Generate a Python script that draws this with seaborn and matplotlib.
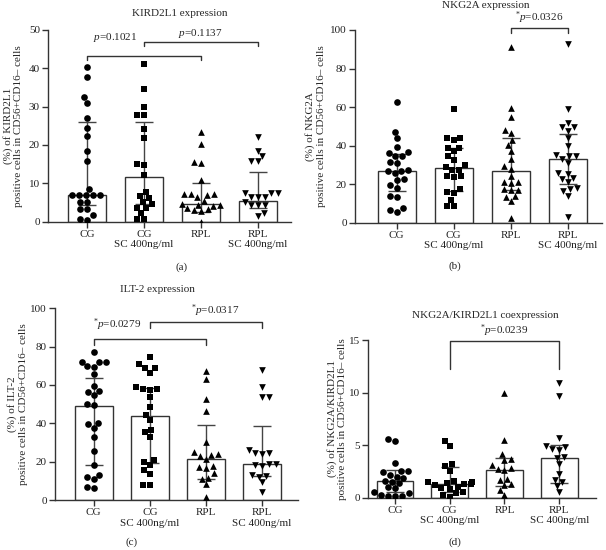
import matplotlib
matplotlib.use('Agg')
import matplotlib.pyplot as plt
import pandas as pd
import seaborn as sns

groups = ['CG', 'CG\nSC 400ng/ml', 'RPL', 'RPL\nSC 400ng/ml']
markers = ['o', 's', '^', 'v']

# (a) KIRD2L1 expression
kir_cg = [40.4, 37.8, 32.4, 30.9, 27.0, 24.5, 22.3, 18.4, 15.7, 8.4, 6.9, 6.9, 6.9, 6.9, 6.9,
          5.2, 5.2, 3.2, 3.2, 1.7, 0.6, 0.5]
kir_cg_sc = [41.1, 34.6, 30.0, 27.8, 27.8, 24.2, 21.9, 14.7, 15.0, 12.2, 7.8, 6.8, 6.2, 5.2,
             4.5, 3.6, 3.6, 2.2, 0.6, 0.6]
kir_rpl = [23.5, 20.2, 15.5, 15.2, 10.9, 7.2, 7.2, 7.0, 7.2, 6.3, 5.5, 4.6, 4.4, 4.3, 4.2,
           3.5, 3.2, 3.0, 2.8, 0.0]
kir_rpl_sc = [22.2, 18.3, 17.0, 15.7, 15.7, 7.4, 7.4, 7.4, 6.5, 6.5, 6.5, 5.2, 4.3, 4.3, 4.3,
              2.2, 1.6]
kir_median = [7.0, 11.6, 4.6, 5.5]
kir_q1 = [4.3, 4.6, 2.6, 3.6]
kir_q3 = [26.0, 26.0, 10.2, 12.9]

# (b) NKG2A expression
nkg_cg = [62.4, 47.1, 43.7, 39.1, 36.5, 36.0, 34.6, 34.4, 31.3, 31.0, 27.3, 27.0, 26.6, 25.7,
          22.8, 22.4, 19.4, 17.9, 13.9, 13.5, 7.5, 6.6, 5.7]
nkg_cg_sc = [59.1, 44.0, 43.7, 42.8, 39.0, 38.8, 37.0, 34.4, 32.7, 29.7, 28.9, 27.5, 27.2,
             24.0, 24.0, 23.8, 17.4, 15.7, 15.5, 11.8, 8.7, 8.7]
nkg_rpl = [91.0, 59.3, 54.8, 48.3, 46.6, 43.0, 40.5, 37.4, 33.0, 29.2, 28.0, 24.3, 21.0, 21.0,
           20.5, 17.5, 17.0, 16.8, 13.6, 13.4, 11.0, 2.3]
nkg_rpl_sc = [92.7, 59.1, 51.5, 49.7, 49.5, 47.8, 43.7, 39.6, 35.0, 34.8, 34.6, 33.2, 31.0,
              25.7, 25.2, 23.1, 22.8, 21.0, 17.9, 17.6, 16.2, 13.6, 3.1]
nkg_median = [27.0, 28.3, 26.6, 33.0]
nkg_q1 = [16.7, 16.7, 17.0, 20.2]
nkg_q3 = [35.7, 38.8, 43.7, 46.1]

# (c) ILT-2 expression
ilt_cg = [77.0, 72.2, 72.0, 71.8, 69.9, 69.5, 65.5, 59.7, 57.0, 56.5, 54.8, 50.1, 49.5, 40.3,
          39.8, 37.5, 32.8, 25.6, 18.0, 13.0, 12.0, 10.8, 6.8, 6.2]
ilt_cg_sc = [74.4, 70.8, 69.0, 69.0, 66.4, 59.1, 57.7, 57.7, 57.4, 53.9, 48.7, 44.3, 41.5,
             36.5, 35.3, 33.0, 20.9, 20.0, 18.0, 15.7, 13.6, 7.8, 7.8]
ilt_rpl = [67.3, 63.1, 52.7, 46.6, 30.4, 25.0, 24.0, 23.5, 23.0, 21.2, 17.5, 17.0, 16.5, 13.9,
           11.7, 11.0, 8.3, 1.7]
ilt_rpl_sc = [67.8, 59.1, 53.9, 53.5, 26.1, 24.5, 24.3, 23.8, 19.0, 18.6, 18.3, 17.8, 13.0,
              12.5, 12.2, 9.2, 4.3]
ilt_median = [49.0, 44.0, 21.2, 18.6]
ilt_q1 = [18.3, 19.5, 11.0, 12.5]
ilt_q3 = [63.5, 58.6, 39.1, 38.8]

# (d) NKG2A/KIRD2L1 coexpression
co_cg = [5.6, 5.35, 3.3, 2.5, 2.5, 2.4, 2.2, 2.0, 1.9, 1.6, 1.5, 1.4, 1.0, 0.9, 0.5, 0.4,
         0.25, 0.2, 0.2, 0.2]
co_cg_sc = [5.4, 4.9, 3.2, 3.0, 2.5, 1.6, 1.5, 1.5, 1.4, 1.3, 1.3, 1.2, 1.0, 0.9, 0.8, 0.5,
            0.4, 0.3, 0.1]
co_rpl = [10.0, 5.5, 4.2, 3.7, 3.6, 3.1, 2.8, 2.7, 2.6, 1.8, 1.7, 1.3, 1.2, 0.75, 0.28]
co_rpl_sc = [10.9, 9.7, 5.7, 4.9, 4.8, 4.6, 4.5, 3.9, 3.8, 3.2, 2.3, 1.7, 1.5, 1.1, 0.5]
co_median = [1.6, 1.35, 2.6, 3.75]
co_q1 = [0.5, 0.55, 1.08, 1.4]
co_q3 = [2.6, 2.9, 3.75, 5.0]

sns.set_style('ticks')
plt.rcParams['font.family'] = ['Liberation Serif', 'DejaVu Serif']
plt.rcParams['mathtext.fontset'] = 'custom'
plt.rcParams['mathtext.rm'] = 'Liberation Serif'
plt.rcParams['mathtext.it'] = 'Liberation Serif:italic'

LINE = '#333333'
fig = plt.figure(figsize=(6.06, 5.5), dpi=100)


def draw_panel(rect, points, med, q1, q3, ymax, ystep, ylabel, xlim, label_x):
    ax = fig.add_axes(rect)
    sns.barplot(x=groups, y=med, order=groups, color='white', edgecolor=LINE,
                linewidth=1, width=0.67, errorbar=None, ax=ax, zorder=1)
    ax.errorbar(range(4), med, yerr=[[m - a for m, a in zip(med, q1)],
                                     [b - m for m, b in zip(med, q3)]],
                fmt='none', ecolor='#444444', elinewidth=1, capsize=6.5,
                capthick=1, zorder=2)
    for i, g in enumerate(groups):
        df = pd.DataFrame({'group': g, 'value': points[i]})
        sns.swarmplot(data=df, x='group', y='value', order=groups, marker=markers[i],
                      color='black', size=4.8, linewidth=0, ax=ax, zorder=3, warn_thresh=1)
    ax.set_xlim(*xlim)
    ax.set_ylim(0, ymax)
    ax.set_yticks(range(0, ymax + 1, ystep))
    ax.set_xlabel('')
    ax.set_ylabel('')
    ax.text(label_x, 0.5, ylabel, transform=ax.transAxes, rotation=90, ha='center',
            va='center', fontsize=8, multialignment='center')
    for s in ['top', 'right']:
        ax.spines[s].set_visible(False)
    for s in ['left', 'bottom']:
        ax.spines[s].set_color(LINE)
        ax.spines[s].set_linewidth(1)
    ax.tick_params(direction='out', length=4, width=1, color=LINE, labelsize=8, pad=2,
                   labelcolor='#222222')
    return ax


def bracket(ax, x0, x1, y, drop, text, tx, ty):
    ax.plot([x0, x0, x1, x1], [y - drop, y, y, y - drop], color=LINE, lw=1, clip_on=False)
    ax.text(tx, ty, text, ha='center', va='center', fontsize=8, clip_on=False)


ax_a = draw_panel([0.0797, 0.597, 0.4006, 0.3485],
                  [kir_cg, kir_cg_sc, kir_rpl, kir_rpl_sc], kir_median, kir_q1, kir_q3,
                  50, 10, '(%) of KIRD2L1\npositive cells in CD56+CD16– cells',
                  (-0.69, 3.59), -0.145)
bracket(ax_a, 0, 2, 43.1, 1.0, r'$p$=0.1021', 0.49, 48.1)
bracket(ax_a, 1, 3, 46.8, 0.9, r'$p$=0.1137', 2.0, 49.2)

ax_b = draw_panel([0.5858, 0.5951, 0.4076, 0.3504],
                  [nkg_cg, nkg_cg_sc, nkg_rpl, nkg_rpl_sc], nkg_median, nkg_q1, nkg_q3,
                  100, 20, '(%) of NKG2A\npositive cells in CD56+CD16– cells',
                  (-0.73, 3.6), -0.16)
bracket(ax_b, 2, 3, 101.2, 2.6, r'$^{*}$$p$=0.0326', 2.5, 106.4)

ax_c = draw_panel([0.0908, 0.0909, 0.401, 0.3486],
                  [ilt_cg, ilt_cg_sc, ilt_rpl, ilt_rpl_sc], ilt_median, ilt_q1, ilt_q3,
                  100, 20, '(%) of ILT-2\npositive cells in CD56+CD16– cells',
                  (-0.69, 3.64), -0.155)
bracket(ax_c, 0, 2, 83.9, 2.9, r'$^{*}$$p$=0.0279', 0.42, 91.5)
bracket(ax_c, 1, 3, 92.8, 3.0, r'$^{*}$$p$=0.0317', 2.16, 98.6)

ax_d = draw_panel([0.6073, 0.0951, 0.3762, 0.2867],
                  [co_cg, co_cg_sc, co_rpl, co_rpl_sc], co_median, co_q1, co_q3,
                  15, 5, '(%) of NKG2A/KIRD2L1\npositive cells in CD56+CD16– cells',
                  (-0.49, 3.67), -0.135)
bracket(ax_d, 1, 3, 14.95, 2.7, r'$^{*}$$p$=0.0239', 2.0, 15.9)

# panel titles and letters
fig.text(180 / 606, 1 - 13 / 550, 'KIRD2L1 expression', ha='center', va='center', fontsize=8)
fig.text(486 / 606, 1 - 5 / 550, 'NKG2A expression', ha='center', va='center', fontsize=8)
fig.text(157 / 606, 1 - 289 / 550, 'ILT-2 expression', ha='center', va='center', fontsize=8)
fig.text(485 / 606, 1 - 315 / 550, 'NKG2A/KIRD2L1 coexpression', ha='center', va='center',
         fontsize=8)
fig.text(182 / 606, 1 - 267 / 550, '(a)', ha='center', va='center', fontsize=8)
fig.text(455 / 606, 1 - 266 / 550, '(b)', ha='center', va='center', fontsize=8)
fig.text(132 / 606, 1 - 542 / 550, '(c)', ha='center', va='center', fontsize=8)
fig.text(455 / 606, 1 - 542 / 550, '(d)', ha='center', va='center', fontsize=8)

fig.savefig('out.png', dpi=100)
